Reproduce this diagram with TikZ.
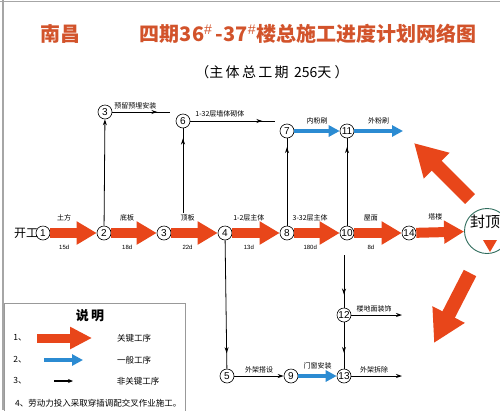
\documentclass[tikz,border=0pt]{standalone}
\usepackage{fontspec}
\setmainfont{Liberation Sans}
\newfontfamily\cjk{Noto Sans CJK SC}
\usetikzlibrary{arrows.meta,decorations.markings}
\definecolor{critc}{HTML}{E8461A}
\definecolor{genc}{HTML}{2B8BD2}
\definecolor{titc}{HTML}{D2532B}
\definecolor{ringc}{HTML}{2E6B5C}
\begin{document}
\begin{tikzpicture}[x=1pt,y=-1pt,
 ev/.style={circle,draw=black,text=black,line width=0.6pt,inner sep=0pt,minimum size=14pt,fill=white,font=\fontsize{10}{10}\selectfont},
 crit/.style={critc,line width=10pt,-{Triangle[width=22pt,length=20pt]}},
 bigcrit/.style={critc,line width=14pt,-{Triangle[width=34pt,length=32pt]}},
 gen/.style={genc,line width=4.5pt,-{Triangle[width=11pt,length=11pt]}},
 nl/.style={black,line width=0.8pt},
 nc/.style={nl,-{Stealth[length=6pt,width=4pt]}},
 midhead/.style={nl,postaction={decorate},decoration={markings,mark=at position #1 with {\arrow{Stealth[length=6pt,width=4pt]}}}},
 lab/.style={text=black,font=\cjk\fontsize{7}{7}\selectfont,inner sep=1pt},
 dur/.style={text=black,font=\fontsize{6}{6}\selectfont,inner sep=1pt},
 leg/.style={text=black,font=\cjk\fontsize{8.5}{9}\selectfont,inner sep=1pt}]
\useasboundingbox (0,0) rectangle (500,410);
% frame
\draw[gray!70,line width=1pt] (0,1.5) -- (500,1.5);
\draw[gray!70,line width=1.2pt] (3,0) -- (3,410);
% titles
\node[font=\cjk\bfseries\fontsize{20}{20}\selectfont,text=titc] (t1) at (60,34) {南昌};
\node[font=\cjk\bfseries\fontsize{20}{20}\selectfont,text=titc] (t2) at (308,34) {四期36$^{\#}$\,-37$^{\#}$楼总施工进度计划网络图};
\node[font=\cjk\fontsize{14}{14}\selectfont] (t3) at (272,72) {（主\,体\,总\,工\,期\, 256天 ）};
% events
\node[ev] (n1) at (43,233) {1};
\node[ev] (n2) at (104,233) {2};
\node[ev] (n3) at (164,233) {3};
\node[ev] (n4) at (225,233) {4};
\node[ev] (n8) at (287,233) {8};
\node[ev] (n10) at (347,233) {10};
\node[ev] (n14) at (409,233) {14};
\node[ev] (n3t) at (105,112) {3};
\node[ev] (n6) at (183,121) {6};
\node[ev] (n7) at (287,131) {7};
\node[ev] (n11) at (347,131) {11};
\node[ev] (n5) at (227,376) {5};
\node[ev] (n9) at (291,376) {9};
\node[ev] (n13) at (344,376) {13};
\node[ev] (n12) at (344,315) {12};
\node[font=\cjk\fontsize{12}{12}\selectfont,inner sep=1pt] (kg) at (26,233) {开工};
\node[circle,draw=ringc,line width=0.9pt,minimum size=45pt,inner sep=0pt] (fd) at (487,231) {};
\node[font=\cjk\fontsize{15}{15}\selectfont,inner sep=0pt] (fdt) at (485,222) {封顶};
\fill[critc] (483,240) -- (497,240) -- (490,252) -- cycle;
% coordinates for free ends
\coordinate (e3t) at (170,112);
\coordinate (e6) at (275,121);
\coordinate (e11) at (403,131);
\coordinate (s6) at (183,213);
\coordinate (s12) at (344,255);
\coordinate (e12) at (402,315);
\coordinate (e13) at (402,376);
\coordinate (ua) at (470,199);
\coordinate (ut) at (414,143);
\coordinate (da) at (470,273);
\coordinate (dt) at (434,343);
% critical path
\draw[crit] (n1) -- (n2) node[lab,pos=0.3,above=6pt]{土方} node[dur,pos=0.3,below=6pt]{15d};
\draw[crit] (n2) -- (n3) node[lab,pos=0.35,above=6pt]{底板} node[dur,pos=0.35,below=6pt]{18d};
\draw[crit] (n3) -- (n4) node[lab,pos=0.35,above=6pt]{顶板} node[dur,pos=0.35,below=6pt]{22d};
\draw[crit] (n4) -- (n8) node[lab,pos=0.35,above=6pt]{1-2层主体} node[dur,pos=0.35,below=6pt]{13d};
\draw[crit] (n8) -- (n10) node[lab,pos=0.35,above=6pt]{3-32层主体} node[dur,pos=0.35,below=6pt]{180d};
\draw[crit] (n10) -- (n14) node[lab,pos=0.35,above=6pt]{屋面} node[dur,pos=0.35,below=6pt]{8d};
\draw[crit] (n14) -- (fd) node[lab,pos=0.4,above=6pt]{塔楼};
\draw[bigcrit] (ua) -- (ut);
\draw[bigcrit] (da) -- (dt);
% general
\draw[gen] (n7) -- (n11) node[lab,midway,above=4pt]{内粉刷};
\draw[gen] (n11) -- (e11) node[lab,pos=0.5,above=4pt]{外粉刷};
\draw[gen] (n9) -- (n13) node[lab,midway,above=4pt]{门窗安装};
% non-critical
\draw[midhead=0.78] (n3t) -- (e3t) node[lab,pos=0.4,above=2pt]{预留预埋安装};
\draw[midhead=0.85] (n6) -- (e6) node[lab,pos=0.35,above=2pt]{1-32层墙体砌体};
\draw[nc] (n2) -- (n3t);
\draw[midhead=0.88] (s6) -- (n6);
\draw[midhead=0.9] (n8) -- (n7);
\draw[midhead=0.9] (n10) -- (n11);
\draw[midhead=0.88] (n4) -- (n5);
\draw[nc] (n5) -- (n9) node[lab,midway,above=2pt]{外架搭设};
\draw[nc] (n13) -- (e13) node[lab,pos=0.45,above=2pt]{外架拆除};
\draw[nc] (n12) -- (e12) node[lab,pos=0.45,above=2pt]{楼地面装饰};
\draw[midhead=0.75] (s12) -- (n12);
\draw[midhead=0.66] (n12) -- (n13);
% legend
\draw[gray!80,line width=0.8pt,fill=white] (4,303) rectangle (185,413);
\node[font=\cjk\bfseries\fontsize{13}{13}\selectfont] (lt) at (90,316) {说\,明};
\node[leg] (l1) at (20,338) {1、};
\node[leg] (l2) at (20,360) {2、};
\node[leg] (l3) at (20,381) {3、};
\coordinate (la1) at (37,338); \coordinate (lb1) at (92,338);
\coordinate (la2) at (44,360); \coordinate (lb2) at (83,360);
\coordinate (la3) at (54,381); \coordinate (lb3) at (73,381);
\draw[critc,line width=9pt,-{Triangle[width=21pt,length=22pt]}] (la1) -- (lb1);
\draw[gen] (la2) -- (lb2);
\draw[black,line width=1.4pt,-{Stealth[length=5pt,width=4pt]}] (la3) -- (lb3);
\node[leg] (k1) at (134,338) {关键工序};
\node[leg] (k2) at (134,360) {一般工序};
\node[leg] (k3) at (138,381) {非关键工序};
\node[leg,anchor=west] (k4) at (14,403) {4、劳动力投入采取穿插调配交叉作业施工。};
\end{tikzpicture}
\end{document}
